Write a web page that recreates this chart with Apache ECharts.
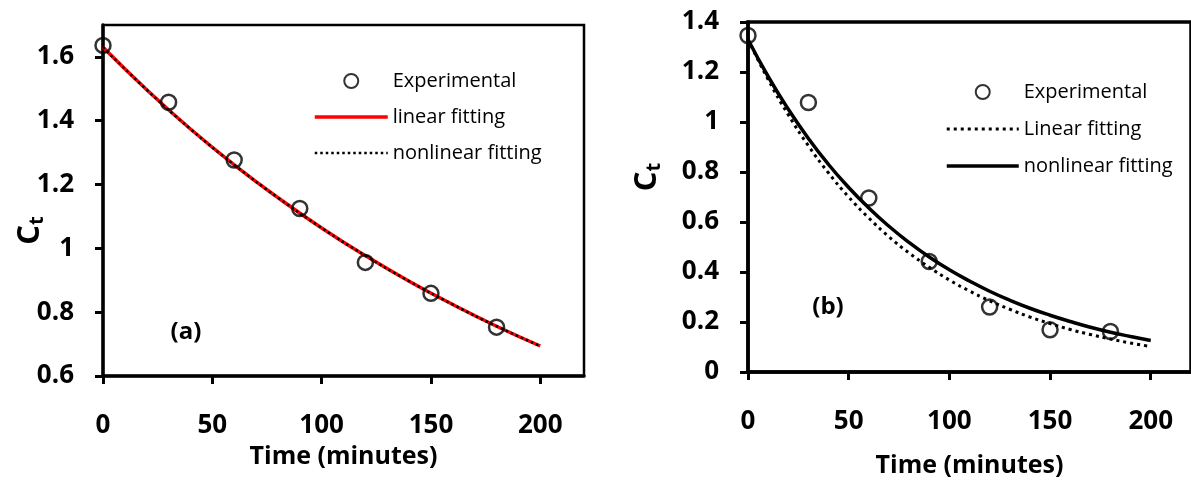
<!DOCTYPE html>
<html><head><meta charset="utf-8">
<script src="https://cdn.jsdelivr.net/npm/echarts@6/dist/echarts.min.js"></script>
<style>html,body{margin:0;padding:0;background:#fff}#c{width:1191px;height:483px}</style>
</head><body><div id="c"></div>
<script>
// ---- data ----
const timeExp = [0, 30, 60, 90, 120, 150, 180];
// panel (a)
const expA = [1.636, 1.458, 1.277, 1.125, 0.956, 0.859, 0.753];
const fitTimeA = [0, 20, 40, 60, 80, 100, 120, 140, 160, 180, 200];
const linA = [1.630, 1.497, 1.374, 1.262, 1.159, 1.064, 0.977, 0.897, 0.824, 0.756, 0.694];
const nonlinA = [1.630, 1.497, 1.374, 1.262, 1.159, 1.064, 0.977, 0.897, 0.824, 0.756, 0.694];
// panel (b)
const expB = [1.346, 1.078, 0.696, 0.442, 0.260, 0.169, 0.162];
const fitTimeB = [0, 10, 20, 30, 40, 50, 60, 70, 80, 90, 100, 110, 120, 130, 140, 150, 160, 170, 180, 190, 200];
const linB = [1.330, 1.170, 1.029, 0.905, 0.796, 0.700, 0.616, 0.541, 0.476, 0.419, 0.368, 0.324, 0.285, 0.251, 0.220, 0.194, 0.170, 0.150, 0.132, 0.116, 0.102];
const nonlinB = [1.330, 1.182, 1.051, 0.934, 0.830, 0.738, 0.656, 0.583, 0.518, 0.460, 0.409, 0.364, 0.323, 0.287, 0.255, 0.227, 0.202, 0.179, 0.159, 0.142, 0.126];
const xTicks = [0, 50, 100, 150, 200];
const yTicksA = [0.6, 0.8, 1, 1.2, 1.4, 1.6];
const yTicksB = [0, 0.2, 0.4, 0.6, 0.8, 1, 1.2, 1.4];

const zip = (xs, ys) => xs.map((x, i) => [x, ys[i]]);
const FONT = 'Open Sans';

function xAxis(gridIndex, nameGap) {
  return {
    type: 'value', gridIndex, min: 0, max: 220, interval: 50,
    name: 'Time (minutes)', nameLocation: 'middle', nameGap,
    nameTextStyle: { fontFamily: FONT, fontWeight: 'bold', fontSize: 25, color: '#000' },
    axisLine: { show: true, lineStyle: { color: '#000', width: 3.5 } },
    axisTick: { show: true, length: 8, lineStyle: { color: '#000', width: 3 }, customValues: xTicks },
    axisLabel: { fontFamily: FONT, fontWeight: 'bold', fontSize: 26, color: '#000', margin: 37, customValues: xTicks },
    splitLine: { show: false }
  };
}
function yAxis(gridIndex, min, max, ticks, nameGap, pad) {
  return {
    type: 'value', gridIndex, min, max, interval: 0.2,
    name: '{c|C}{t|t}', nameLocation: 'middle', nameGap, nameMoveOverlap: false,
    nameTextStyle: {
      padding: pad,
      rich: {
        c: { fontFamily: FONT, fontWeight: 'bold', fontSize: 31, color: '#000', lineHeight: 34 },
        t: { fontFamily: FONT, fontWeight: 'bold', fontSize: 20, color: '#000', lineHeight: 20, verticalAlign: 'bottom' }
      }
    },
    axisLine: { show: true, lineStyle: { color: '#000', width: 3.5 } },
    axisTick: { show: true, length: 8, lineStyle: { color: '#000', width: 3 }, customValues: ticks },
    axisLabel: { fontFamily: FONT, fontWeight: 'bold', fontSize: 26, color: '#000', margin: 29, customValues: ticks },
    splitLine: { show: false }
  };
}

const scatterStyle = { color: 'transparent', borderColor: '#000', borderWidth: 2.5 };
const noDot = { color: 'transparent', borderWidth: 0 };

const option = {
  animation: false,
  backgroundColor: '#fff',
  grid: [
    { left: 103, top: 25, right: 607, bottom: 107, show: true, borderColor: '#000', borderWidth: 2.5, backgroundColor: 'transparent' },
    { left: 748, top: 22, right: -9, bottom: 111, show: true, borderColor: '#000', borderWidth: 3.5, backgroundColor: 'transparent' }
  ],
  xAxis: [xAxis(0, 66), xAxis(1, 81)],
  yAxis: [
    yAxis(0, 0.6, 1.7, yTicksA, 56, [0, 60, 0, 0]),
    yAxis(1, 0, 1.4, yTicksB, 84, [0, 0, 0, 40])
  ],
  legend: [
    {
      data: [
        { name: 'Experimental' },
        { name: 'linear fitting', lineStyle: { width: 3.5 } },
        { name: 'nonlinear fitting', lineStyle: { width: 2.5 } }
      ],
      orient: 'vertical', left: 313, top: 71, padding: 0,
      itemWidth: 73, itemHeight: 14, itemGap: 16, selectedMode: false,
      textStyle: { fontFamily: FONT, fontSize: 20, color: '#000' },
      formatter: n => n.trim()
    },
    {
      data: [
        { name: 'Experimental ' },
        { name: 'Linear fitting', lineStyle: { width: 3 } },
        { name: 'nonlinear fitting ', lineStyle: { width: 3.5 } }
      ],
      orient: 'vertical', left: 945, top: 82, padding: 0,
      itemWidth: 72, itemHeight: 14, itemGap: 17, selectedMode: false,
      textStyle: { fontFamily: FONT, fontSize: 20, color: '#000' },
      formatter: n => n.trim()
    }
  ],
  graphic: [
    { type: 'text', x: 186, y: 332, style: { text: '(a)', font: 'bold 24px "Open Sans"', fill: '#000', align: 'center', verticalAlign: 'middle' } },
    { type: 'text', x: 828, y: 307, style: { text: '(b)', font: 'bold 24px "Open Sans"', fill: '#000', align: 'center', verticalAlign: 'middle' } }
  ],
  series: [
    { name: 'linear fitting', type: 'line', xAxisIndex: 0, yAxisIndex: 0, data: zip(fitTimeA, linA),
      smooth: true, symbol: 'none', lineStyle: { color: '#ff0000', width: 3.5 }, itemStyle: noDot, z: 2 },
    { name: 'nonlinear fitting', type: 'line', xAxisIndex: 0, yAxisIndex: 0, data: zip(fitTimeA, nonlinA),
      smooth: true, symbol: 'none', lineStyle: { color: '#000', width: 2.5, type: [2.5, 3] }, itemStyle: noDot, z: 3 },
    { name: 'Experimental', type: 'scatter', xAxisIndex: 0, yAxisIndex: 0, data: zip(timeExp, expA),
      symbol: 'circle', symbolSize: 15, itemStyle: scatterStyle, z: 4 },
    { name: 'Linear fitting', type: 'line', xAxisIndex: 1, yAxisIndex: 1, data: zip(fitTimeB, linB),
      smooth: true, symbol: 'none', lineStyle: { color: '#000', width: 3, type: [3, 4] }, itemStyle: noDot, z: 2 },
    { name: 'nonlinear fitting ', type: 'line', xAxisIndex: 1, yAxisIndex: 1, data: zip(fitTimeB, nonlinB),
      smooth: true, symbol: 'none', lineStyle: { color: '#000', width: 3.5 }, itemStyle: noDot, z: 3 },
    { name: 'Experimental ', type: 'scatter', xAxisIndex: 1, yAxisIndex: 1, data: zip(timeExp, expB),
      symbol: 'circle', symbolSize: 15, itemStyle: scatterStyle, z: 4 }
  ]
};
const chart = echarts.init(document.getElementById('c'), null, { renderer: 'canvas' });
chart.setOption(option);
</script>
</body></html>
